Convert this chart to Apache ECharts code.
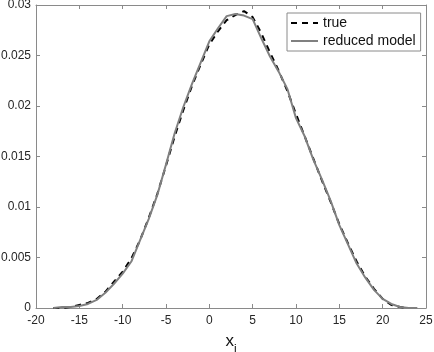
<!DOCTYPE html>
<html>
<head>
<meta charset="utf-8">
<script src="https://cdn.jsdelivr.net/npm/echarts@6/dist/echarts.min.js"></script>
<style>
  html, body { margin: 0; padding: 0; background: #fff; }
  #chart { width: 434px; height: 352px; }
</style>
</head>
<body>
<div id="chart"></div>
<script>
// x positions (x_i) shared by both curves
const xValues = [-18, -17, -16, -15, -14, -13, -12, -11, -10, -9, -8, -7, -6, -5, -4, -3, -2, -1,
  0, 1, 2, 3, 4, 5, 6, 7, 8, 9, 10, 11, 12, 13, 14, 15, 16, 17, 18, 19, 20, 21, 22, 23, 24];

// "true" distribution (dashed black)
const trueValues = [0, 0, 0.0001, 0.0003, 0.0005, 0.0009, 0.0016, 0.0026, 0.0036, 0.0049, 0.0067,
  0.0089, 0.0113, 0.0141, 0.0170, 0.0196, 0.0220, 0.0241, 0.0261, 0.0274, 0.0285, 0.0290, 0.0294,
  0.0288, 0.0272, 0.0253, 0.0235, 0.0215, 0.0192, 0.0170, 0.0148, 0.0126, 0.0105, 0.0083, 0.0064,
  0.0046, 0.0031, 0.0019, 0.0009, 0.0003, 0.0001, 0, null];

// reduced model (solid gray)
const reducedValues = [0, 0.0001, 0.0001, 0.0002, 0.0004, 0.0008, 0.0015, 0.0024, 0.0034, 0.0046,
  0.0067, 0.0088, 0.0112, 0.0142, 0.0173, 0.0199, 0.0222, 0.0243, 0.0264, 0.0277, 0.0289, 0.0291,
  0.02895, 0.0286, 0.0267, 0.0249, 0.0234, 0.0217, 0.0188, 0.0170, 0.0147, 0.0127, 0.0106, 0.0082,
  0.0063, 0.0044, 0.0030, 0.0018, 0.0009, 0.0004, 0.0001, 0, 0];

const seriesNames = ["true", "reduced model"];

function pairs(ys) {
  return xValues.map((x, i) => [x, ys[i]]).filter(p => p[1] !== null);
}

const axisColor = "#8a8a8a";
const textColor = "#262626";
const font = "Liberation Sans";

let chart = echarts.init(document.getElementById("chart"));

let baseX = {
  type: "value",
  min: -20,
  max: 25,
  interval: 5,
  splitLine: { show: false },
  axisLine: { show: true, onZero: false, lineStyle: { color: axisColor, width: 1 } },
  axisTick: { show: true, inside: true, length: 4, lineStyle: { color: axisColor } },
};
let baseY = {
  type: "value",
  min: 0,
  max: 0.03,
  interval: 0.005,
  splitLine: { show: false },
  axisLine: { show: true, onZero: false, lineStyle: { color: axisColor, width: 1 } },
  axisTick: { show: true, inside: true, length: 4, lineStyle: { color: axisColor } },
};

let option = {
  backgroundColor: "#fff",
  animation: false,
  grid: { left: 36, right: 8, top: 5, bottom: 44, outerBoundsMode: "none" },
  legend: {
    orient: "vertical",
    left: 287,
    top: 13,
    padding: [3, 5, 3, 3],
    itemGap: 4,
    itemWidth: 27,
    itemHeight: 14,
    borderColor: axisColor,
    borderWidth: 1,
    backgroundColor: "#fff",
    itemStyle: { opacity: 0 },
    textStyle: { fontFamily: font, fontSize: 14, color: "#111" },
    data: seriesNames,
  },
  xAxis: [
    Object.assign({}, baseX, {
      position: "bottom",
      axisLabel: { color: textColor, fontFamily: font, fontSize: 12, margin: 7 },
      name: "{a|x}{b|i}",
      nameLocation: "middle",
      nameGap: 25,
      nameTextStyle: {
        rich: {
          a: { fontFamily: font, fontSize: 17, color: "#111", lineHeight: 23, verticalAlign: "top" },
          b: { fontFamily: font, fontSize: 12, color: "#111", lineHeight: 23, verticalAlign: "bottom" },
        },
      },
    }),
    Object.assign({}, baseX, { position: "top", axisLabel: { show: false } }),
  ],
  yAxis: [
    Object.assign({}, baseY, {
      position: "left",
      axisLabel: { color: textColor, fontFamily: font, fontSize: 12, margin: 5 },
    }),
    Object.assign({}, baseY, { position: "right", axisLabel: { show: false } }),
  ],
  series: [
    {
      name: seriesNames[0],
      type: "line",
      data: pairs(trueValues),
      symbol: "none",
      z: 3,
      lineStyle: { color: "#000", width: 2, type: [6, 5] },
      itemStyle: { color: "#000" },
    },
    {
      name: seriesNames[1],
      type: "line",
      data: pairs(reducedValues),
      symbol: "none",
      z: 4,
      lineStyle: { color: "#808080", width: 2 },
      itemStyle: { color: "#808080" },
    },
  ],
};

chart.setOption(option);
</script>
</body>
</html>
